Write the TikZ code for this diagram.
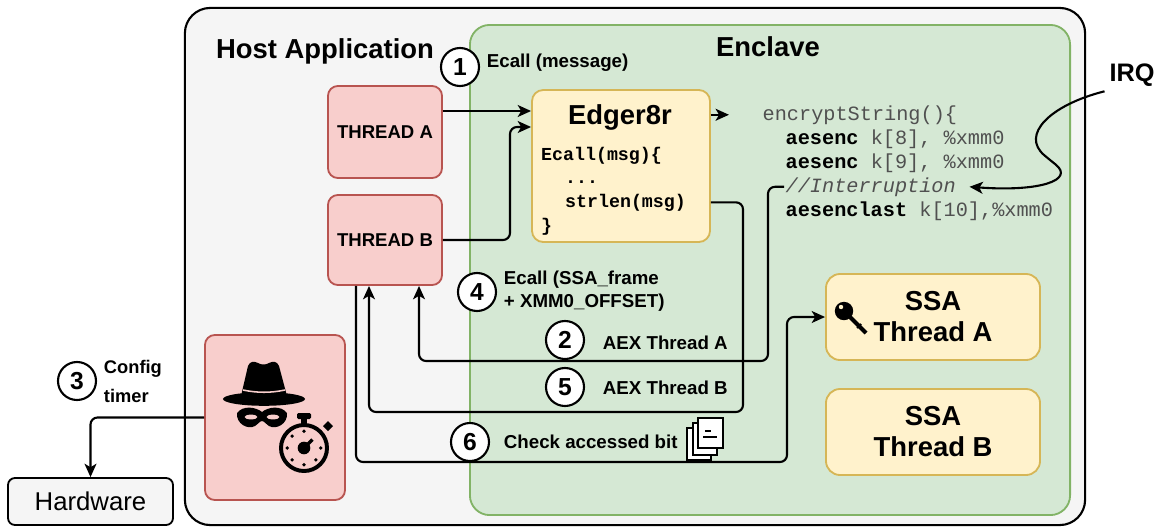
\documentclass[tikz,border=0pt]{standalone}
\usepackage{fontspec}
\setmainfont{Liberation Sans}
\setmonofont{Liberation Mono}
\usetikzlibrary{arrows.meta}

\definecolor{hostgray}{HTML}{F5F5F5}
\definecolor{enclfill}{HTML}{D5E8D4}
\definecolor{enclline}{HTML}{82B366}
\definecolor{redfill}{HTML}{F8CECC}
\definecolor{redline}{HTML}{B85450}
\definecolor{yelfill}{HTML}{FFF2CC}
\definecolor{yelline}{HTML}{D6B656}
\definecolor{codegray}{HTML}{505050}

% Befehlsname im Assembler-Code: fett und schwarz
\newcommand{\asmop}[1]{\textcolor{black}{\bfseries #1}}

\begin{document}
\begin{tikzpicture}[x=0.025cm, y=-0.025cm]

    % --- Grundeinstellungen für Styles ---
    \tikzset{
        box/.style={draw, line width=1.3pt, rounded corners=7pt, align=center},
        hostbox/.style={box, fill=hostgray, draw=black, line width=1.5pt, rounded corners=18pt},
        enclavebox/.style={box, fill=enclfill, draw=enclline, rounded corners=14pt},
        threadbox/.style={box, fill=redfill, draw=redline, minimum width=2.85cm, font=\fontsize{13.2}{16}\selectfont\bfseries},
        ssabox/.style={box, fill=yelfill, draw=yelline, rounded corners=10pt, minimum width=5.35cm, minimum height=2.15cm, font=\fontsize{19.5}{22}\selectfont\bfseries},
        heading/.style={font=\fontsize{19.5}{23}\selectfont\bfseries, anchor=base},
        lbl/.style={font=\fontsize{13.3}{16.4}\selectfont\bfseries, anchor=west, align=left},
        numcirc/.style={circle, draw, fill=white, line width=1.5pt, minimum size=0.95cm, inner sep=0pt, font=\fontsize{17.5}{17.5}\selectfont\bfseries},
        codeln/.style={font=\fontsize{14.4}{17}\selectfont\ttfamily, text=codegray, anchor=base west, inner sep=1pt},
        edgcode/.style={font=\fontsize{13}{15}\selectfont\ttfamily\bfseries, anchor=base west, inner sep=1pt},
        flow/.style={-{Stealth[length=9.5pt, width=8.5pt, inset=2.5pt]}, line width=1.5pt, rounded corners=5pt}
    }

    \useasboundingbox (0,0) rectangle (1157,527);

    % --- 1. Bereiche ---
    \node[hostbox, minimum width=22.5cm, minimum height=12.925cm] (host) at (635,266.5) {};
    \node[enclavebox, minimum width=15cm, minimum height=12.25cm] (encl) at (770,270) {};
    \node[heading] at (325,58) {Host Application};
    \node[heading] at (768,56) {Enclave};

    % --- 2. Threads, Angreifer, Hardware ---
    \node[threadbox, minimum height=2.3cm] (thA) at (385,132) {THREAD A};
    \node[threadbox, minimum height=2.25cm] (thB) at (385,240) {THREAD B};
    \node[box, fill=redfill, draw=redline, minimum width=3.5cm, minimum height=4.125cm] (spy) at (275,417.5) {};
    \node[box, fill=hostgray, rounded corners=5pt, minimum width=4.125cm, minimum height=1.175cm, font=\fontsize{18.3}{20}\selectfont] (hw) at (90.5,501.5) {Hardware};

    % --- 3. Edger8r und Enklaven-Code ---
    \node[box, fill=yelfill, draw=yelline, rounded corners=8pt, minimum width=4.45cm, minimum height=3.8cm] (edger) at (621,166) {};
    \node[heading] at (620,124) {Edger8r};
    \node[edgcode] (ec1) at (539.5,160) {Ecall(msg)\{};
    \node[edgcode] (ec2) at (563.5,183) {...};
    \node[edgcode] (strl) at (563.5,207) {strlen(msg)};
    \node[edgcode] (ec4) at (539.5,231) {\}};

    \node[codeln] (code1) at (761,120) {encryptString()\{};
    \node[codeln] (code2) at (784,144) {\asmop{aesenc} k[8], \%xmm0};
    \node[codeln] (code3) at (784,168) {\asmop{aesenc} k[9], \%xmm0};
    \node[codeln] (intr) at (784,192) {\itshape //Interruption};
    \node[codeln] (code5) at (784,216) {\asmop{aesenclast} k[10],\%xmm0};

    % SSA-Bereiche
    \node[ssabox] (ssaA) at (933,317) {SSA\\Thread A};
    \node[ssabox] (ssaB) at (933,432) {SSA\\Thread B};

    \node[font=\fontsize{18}{20}\selectfont\bfseries] (irq) at (1132,75) {IRQ};

    % --- 4. Schritte (nummeriert) ---
    \node[numcirc] (n1) at (460,67) {1};
    \node[lbl] at (482,63) {Ecall (message)};
    \node[numcirc] (n4) at (477,292) {4};
    \node[lbl] at (499,291) {Ecall (SSA\_frame\\+ XMM0\_OFFSET)};
    \node[numcirc] (n2) at (565,340) {2};
    \node[lbl] at (598,343) {AEX Thread A};
    \node[numcirc] (n5) at (565,387) {5};
    \node[lbl] at (598,388) {AEX Thread B};
    \node[numcirc] (n6) at (470,442) {6};
    \node[lbl] at (499,442) {Check accessed bit};
    \node[numcirc] (n3) at (77,381) {3};
    \node[lbl, font=\fontsize{13}{20.6}\selectfont\bfseries] at (99,381) {Config\\timer};

    % --- 5. Pfeile ---
    \coordinate (inA) at ([yshift=0.525cm]thA.east);
    \coordinate (inB) at (510,127);
    \draw[flow] (inA) -- (inA -| edger.west);
    \draw[flow] (thB.east) -| (inB) -- (inB -| edger.west);
    \draw[flow] (code1.west -| edger.east) -- ++(18,0);

    % AEX zurück in den Host
    \draw[flow] (intr.west) -| (768,361) -| ([xshift=0.85cm]thB.south);
    \draw[flow] (strl.east -| edger.east) -| (743,412) -| ([xshift=-0.4cm]thB.south);
    \draw[flow] ([xshift=-0.725cm]thB.south) |- (787,462) |- (ssaA.west);
    \draw[flow] (spy.west) -| (hw.north);

    % Interrupt
    \draw[flow] (irq.south west) .. controls (1050,105) and (1020,135) .. (1050,160)
        .. controls (1075,180) and (1040,192) .. ([xshift=0.3cm]intr.east);

    % --- 6. Symbole ---
    % Hut
    \fill (241,396) -- (248,366) .. controls (250,361) and (254,361) .. (258,363)
        .. controls (261,365) and (266,365) .. (269,363)
        .. controls (273,361) and (277,361) .. (279,366) -- (287,396) -- cycle;
    \fill (264,399) ellipse [x radius=1.025cm, y radius=0.17cm];
    \draw[redfill, line width=1.1pt] (243,390) .. controls (257,393) and (271,393) .. (285,390);
    % Maske
    \fill (237,413) .. controls (243,405) and (256,407) .. (262,412)
        .. controls (268,407) and (281,405) .. (287,413)
        .. controls (288,424) and (276,430) .. (269,426)
        .. controls (266,424) and (264,421) .. (262,421)
        .. controls (260,421) and (258,424) .. (255,426)
        .. controls (248,430) and (236,424) .. (237,413) -- cycle;
    \fill[redfill] (251,417) ellipse [x radius=0.16cm, y radius=0.06cm];
    \fill[redfill] (273,417) ellipse [x radius=0.16cm, y radius=0.06cm];
    % Stoppuhr
    \draw[line width=2.8pt, fill=redfill] (304,448) circle [radius=0.575cm];
    \fill (301,419) rectangle (307,425);
    \fill[rounded corners=1pt] (297,413) rectangle (311,419);
    \fill (323,426) -- (328,421) -- (333,426) -- (328,431) -- cycle;
    \foreach \a in {0,90,135,...,315}
        \fill (304,448) ++(\a:0.42cm) circle [radius=1.3pt];
    \fill (304,448) circle [radius=4.5pt];
    \draw[line width=2.4pt] (304,448) -- ++(45:0.3cm);

    % Seiten-Stapel
    \filldraw[fill=white, line width=0.8pt] (687,428) rectangle (711,460);
    \filldraw[fill=white, line width=0.8pt] (693,423) rectangle (717,455);
    \filldraw[fill=white, line width=0.8pt] (698,418) rectangle (723,448);
    \draw[line width=1.2pt] (705,431) -- (711,431);
    \draw[line width=1.2pt] (703,437) -- (717,437);

    % Schlüssel
    \draw[line width=3pt] (847,314) -- (866,333);
    \draw[line width=1.5pt] (857,328) -- (861,324);
    \fill (844,311) circle [radius=0.23cm];
    \fill[yelfill] (841,307) circle [radius=0.055cm];

\end{tikzpicture}
\end{document}
